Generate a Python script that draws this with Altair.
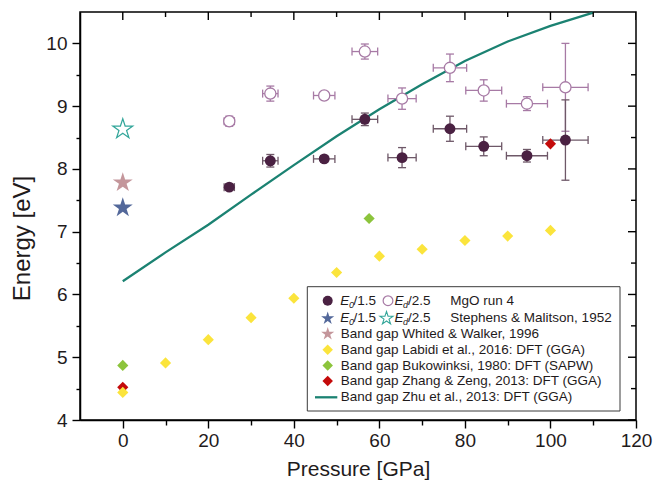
import altair as alt
import pandas as pd

# ---------------- data ----------------
run4_pressure = [24.9, 34.5, 47.1, 56.6, 65.3, 76.5, 84.4, 94.5, 103.5]
run4_pressure_err = [1.2, 1.8, 2.5, 3.0, 3.3, 3.9, 4.2, 4.8, 5.3]
run4_e0 = [7.71, 8.13, 8.16, 8.79, 8.18, 8.64, 8.36, 8.21, 8.46]
run4_e0_err = [0.05, 0.10, 0.05, 0.10, 0.16, 0.20, 0.15, 0.10, 0.64]
run4_ed = [8.76, 9.20, 9.17, 9.87, 9.12, 9.61, 9.25, 9.04, 9.30]
run4_ed_err = [0.08, 0.12, 0.05, 0.12, 0.17, 0.22, 0.17, 0.11, 0.70]

stephens_pressure = [0]
stephens_e0 = [7.39]
stephens_ed = [8.64]

whited_pressure = [0]
whited_gap = [7.79]

labidi_pressure = [0, 10, 20, 30, 40, 50, 60, 70, 80, 90, 100]
labidi_gap = [4.44, 4.91, 5.28, 5.63, 5.94, 6.35, 6.61, 6.72, 6.86, 6.93, 7.02]

bukowinski_pressure = [0, 57.6]
bukowinski_gap = [4.87, 7.21]

zhang_pressure = [0, 100]
zhang_gap = [4.52, 8.40]

zhu_pressure = [0, 10, 20, 30, 40, 50, 60, 70, 80, 90, 100, 110]
zhu_gap = [6.21, 6.67, 7.11, 7.59, 8.06, 8.52, 8.95, 9.35, 9.72, 10.03, 10.28, 10.49]

legend_labels = [
    "MgO run 4",
    "Stephens & Malitson, 1952",
    "Band gap Whited & Walker, 1996",
    "Band gap Labidi et al., 2016: DFT (GGA)",
    "Band gap Bukowinksi, 1980: DFT (SAPW)",
    "Band gap Zhang & Zeng, 2013: DFT (GGA)",
    "Band gap Zhu et al., 2013: DFT (GGA)",
]

x_title = "Pressure [GPa]"
y_title = "Energy [eV]"
x_ticks = [0, 10, 20, 30, 40, 50, 60, 70, 80, 90, 100, 110, 120]
y_ticks = [4, 4.5, 5, 5.5, 6, 6.5, 7, 7.5, 8, 8.5, 9, 9.5, 10]

# ---------------- styling ----------------
FONT = "Liberation Sans"
W, H = 556, 408
C_FILLED = "#4a2142"
C_FILLED_ERR = "#6e5868"
C_OPEN = "#a77aa5"
C_ZHU = "#1b8272"
C_TEAL_STAR = "#33a69a"
C_BLUE = "#53689a"
C_PINK = "#c4969b"
C_YELLOW = "#fbe43c"
C_GREEN = "#8cc43c"
C_RED = "#c40a0a"
TXT = "#1f1b1c"
STAR = ("M0,-0.95L0.2245,-0.259L0.9511,-0.259L0.3633,0.168L0.5878,0.859L0,0.432"
        "L-0.5878,0.859L-0.3633,0.168L-0.9511,-0.259L-0.2245,-0.259Z")

xs = alt.Scale(domain=[-10, 120], nice=False, zero=False)
ys = alt.Scale(domain=[4, 10.5], nice=False, zero=False)

common = dict(domainColor="black", domainWidth=1.5, tickColor="black", tickWidth=1.4,
              grid=False, labelFont=FONT, titleFont=FONT, labelColor=TXT, titleColor=TXT,
              labelFontSize=19, titleFontWeight="normal", labelFlush=False, labelOverlap=False)

ax_bottom = alt.Axis(orient="bottom", values=x_ticks,
                     labelExpr="datum.value % 20 === 0 ? format(datum.value, 'd') : ''",
                     tickSize={"condition": {"test": "datum.value % 20 === 0", "value": 8}, "value": 5},
                     labelPadding=3, title=x_title, titleFontSize=21, titlePadding=8, **common)
ax_left = alt.Axis(orient="left", values=y_ticks,
                   labelExpr="datum.value % 1 === 0 ? format(datum.value, 'd') : ''",
                   tickSize={"condition": {"test": "datum.value % 1 === 0", "value": 8}, "value": 4},
                   labelPadding=5, title=y_title, titleFontSize=24, titleX=-58, titleY=226,
                   titleAngle=270, titleBaseline="middle", titleAlign="center", **common)


def X(field):
    return alt.X(f"{field}:Q", scale=xs, axis=ax_bottom)


def Y(field):
    return alt.Y(f"{field}:Q", scale=ys, axis=ax_left)


# ---------------- mirrored inward ticks on top and right ----------------
xt_df = pd.DataFrame({"v": x_ticks})
yt_df = pd.DataFrame({"v": y_ticks})
top_major = alt.Chart(xt_df).transform_filter("datum.v % 20 === 0").mark_tick(
    orient="vertical", size=16, thickness=1.4, color="black", opacity=1, clip=True).encode(
    x=X("v"), y=alt.value(0))
top_minor = alt.Chart(xt_df).transform_filter("datum.v % 20 !== 0").mark_tick(
    orient="vertical", size=10, thickness=1.4, color="black", opacity=1, clip=True).encode(
    x=X("v"), y=alt.value(0))
right_major = alt.Chart(yt_df).transform_filter("datum.v % 1 === 0").mark_tick(
    orient="horizontal", size=16, thickness=1.4, color="black", opacity=1, clip=True).encode(
    y=Y("v"), x=alt.value(W))
right_minor = alt.Chart(yt_df).transform_filter("datum.v % 1 !== 0").mark_tick(
    orient="horizontal", size=10, thickness=1.4, color="black", opacity=1, clip=True).encode(
    y=Y("v"), x=alt.value(W))

# ---------------- data layers ----------------
zhu_df = pd.DataFrame({"P": zhu_pressure, "E": zhu_gap})
zhu_line = alt.Chart(zhu_df).mark_line(color=C_ZHU, strokeWidth=2.3).encode(
    x=X("P"), y=Y("E"))

run4 = pd.DataFrame({"P": run4_pressure, "Perr": run4_pressure_err,
                     "E0": run4_e0, "E0err": run4_e0_err,
                     "Ed": run4_ed, "Ederr": run4_ed_err})
base = alt.Chart(run4).transform_calculate(
    Plo="datum.P - datum.Perr", Phi="datum.P + datum.Perr",
    E0lo="datum.E0 - datum.E0err", E0hi="datum.E0 + datum.E0err",
    Edlo="datum.Ed - datum.Ederr", Edhi="datum.Ed + datum.Ederr")


def errlayers(yf, color):
    sw = 1.3
    cap = 8
    return [
        base.mark_rule(color=color, strokeWidth=sw).encode(x=X("Plo"), x2="Phi:Q", y=Y(yf)),
        base.mark_rule(color=color, strokeWidth=sw).encode(x=X("P"), y=Y(yf + "lo"), y2=f"{yf}hi:Q"),
        base.mark_tick(orient="vertical", size=cap, thickness=sw, color=color, opacity=1).encode(x=X("Plo"), y=Y(yf)),
        base.mark_tick(orient="vertical", size=cap, thickness=sw, color=color, opacity=1).encode(x=X("Phi"), y=Y(yf)),
        base.mark_tick(orient="horizontal", size=cap, thickness=sw, color=color, opacity=1).encode(x=X("P"), y=Y(yf + "lo")),
        base.mark_tick(orient="horizontal", size=cap, thickness=sw, color=color, opacity=1).encode(x=X("P"), y=Y(yf + "hi")),
    ]


open_pts = base.mark_point(shape="circle", fill="white", fillOpacity=1, stroke=C_OPEN,
                           strokeWidth=1.3, size=125, opacity=1).encode(x=X("P"), y=Y("Ed"))
filled_pts = base.mark_point(shape="circle", filled=True, color=C_FILLED, size=120,
                             opacity=1).encode(x=X("P"), y=Y("E0"))


def pts(px, py, shape, size, fill, stroke=None, sw=0):
    df = pd.DataFrame({"P": px, "E": py})
    kw = dict(shape=shape, size=size, fill=fill, fillOpacity=1, opacity=1, strokeWidth=sw)
    if stroke:
        kw["stroke"] = stroke
    return alt.Chart(df).mark_point(**kw).encode(x=X("P"), y=Y("E"))


stars_teal = pts(stephens_pressure, stephens_ed, STAR, 440, "white", C_TEAL_STAR, 1.2)
stars_blue = pts(stephens_pressure, stephens_e0, STAR, 440, C_BLUE)
stars_pink = pts(whited_pressure, whited_gap, STAR, 440, C_PINK)
dia_yellow = pts(labidi_pressure, labidi_gap, "diamond", 125, C_YELLOW)
dia_green = pts(bukowinski_pressure, bukowinski_gap, "diamond", 125, C_GREEN)
dia_red = pts(zhang_pressure, zhang_gap, "diamond", 125, C_RED)

# ---------------- legend (drawn manually) ----------------
one = alt.Data(values=[{"k": 1}])
rows_y = [288.7, 306.0, 321.5, 337.8, 353.6, 369.0, 385.3]
SYM_X = 247.7
TXT_X = 260.7


def lsym(x, y, shape, size, fill, stroke=None, sw=0):
    kw = dict(shape=shape, size=size, fill=fill, fillOpacity=1, opacity=1, strokeWidth=sw)
    if stroke:
        kw["stroke"] = stroke
    return alt.Chart(one).mark_point(**kw).encode(x=alt.value(x), y=alt.value(y))


def ltxt(s, x, y, size=13.5, italic=False):
    kw = dict(align="left", baseline="middle", font=FONT, fontSize=size, color=TXT)
    if italic:
        kw["fontStyle"] = "italic"
    return alt.Chart(one).mark_text(**kw).encode(x=alt.value(x), y=alt.value(y), text=alt.value(s))


legend_box = alt.Chart(one).mark_rect(fill="white", stroke="#3a3a3a", strokeWidth=1).encode(
    x=alt.value(227.3), x2=alt.value(540), y=alt.value(274.7), y2=alt.value(399))

legend_layers = [legend_box]
for i in range(2):
    y = rows_y[i]
    if i == 0:
        legend_layers.append(lsym(SYM_X, y, "circle", 100, C_FILLED))
        legend_layers.append(lsym(308, y, "circle", 95, "white", C_OPEN, 1.2))
    else:
        legend_layers.append(lsym(SYM_X, y, STAR, 190, C_BLUE))
        legend_layers.append(lsym(306.5, y, STAR, 190, "white", C_TEAL_STAR, 1.1))
    legend_layers += [
        ltxt("E", 260.3, y, italic=True), ltxt("0", 269.0, y + 4, size=9, italic=True),
        ltxt("/1.5", 273.5, y),
        ltxt("E", 314.5, y, italic=True), ltxt("d", 323.0, y + 4, size=9, italic=True),
        ltxt("/2.5", 328.0, y),
        ltxt(legend_labels[i], 370.3, y),
    ]

legend_layers += [
    lsym(SYM_X, rows_y[2], STAR, 190, C_PINK),
    lsym(SYM_X, rows_y[3], "diamond", 110, C_YELLOW),
    lsym(SYM_X, rows_y[4], "diamond", 110, C_GREEN),
    lsym(SYM_X, rows_y[5], "diamond", 110, C_RED),
    alt.Chart(one).mark_rule(color=C_ZHU, strokeWidth=2.3).encode(
        x=alt.value(235), x2=alt.value(257.3), y=alt.value(rows_y[6])),
]
for i in range(2, 7):
    legend_layers.append(ltxt(legend_labels[i], TXT_X, rows_y[i]))

layers = ([zhu_line, top_major, top_minor, right_major, right_minor]
          + errlayers("Ed", C_OPEN) + errlayers("E0", C_FILLED_ERR)
          + [dia_red, dia_green, dia_yellow]
          + [open_pts, filled_pts, stars_teal, stars_pink, stars_blue]
          + legend_layers)

chart = alt.layer(*layers).properties(
    width=W, height=H,
    autosize=alt.AutoSizeParams(type="none"),
    padding={"left": 80, "top": 12, "right": 27, "bottom": 67},
    background="white",
).configure_view(stroke="black", strokeWidth=1.5)

chart.save("out.html", embed_options={"renderer": "svg", "actions": False})
